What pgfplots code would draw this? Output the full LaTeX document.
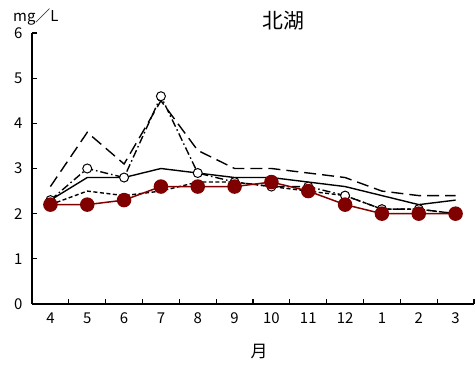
\documentclass[border=0pt]{standalone}
\usepackage{pgfplots}
\pgfplotsset{compat=1.18}
\usepackage{fontspec}
\setmainfont{Noto Sans CJK JP}
\definecolor{maroon}{HTML}{800000}
\begin{document}
\begin{tikzpicture}
\begin{axis}[
  name=ax,
  scale only axis,
  width=442bp, height=271bp,
  xmin=-0.5, xmax=11.5,
  ymin=0, ymax=6,
  axis x line*=bottom,
  axis y line*=left,
  axis line style={line width=1.8pt},
  xtick={0,...,11},
  xticklabels={4,5,6,7,8,9,10,11,12,1,2,3},
  major x tick style={draw=none},
  minor xtick={0.5,1.5,...,11.5},
  minor tick length=5bp,
  ytick={0,1,...,6},
  major tick length=5bp,
  tick style={black, line width=1.3pt},
  tick align=inside,
  /pgf/number format/assume math mode=true,
  tick label style={font=\fontsize{15}{17}\selectfont},
  xticklabel style={yshift=-5bp},
  yticklabel style={xshift=-6bp},
  clip=false,
]
\addplot[black, line width=1.4pt, dash pattern=on 12bp off 6bp] coordinates {
(0,2.6) (1,3.8) (2,3.1) (3,4.5) (4,3.4) (5,3.0) (6,3.0) (7,2.9) (8,2.8) (9,2.5) (10,2.4) (11,2.4)};
\addplot[black, line width=1.4pt] coordinates {
(0,2.3) (1,2.8) (2,2.8) (3,3.0) (4,2.9) (5,2.8) (6,2.8) (7,2.7) (8,2.6) (9,2.4) (10,2.2) (11,2.3)};
\addplot[black, line width=1.4pt, dash pattern=on 4bp off 2.5bp] coordinates {
(0,2.2) (1,2.5) (2,2.4) (3,2.5) (4,2.7) (5,2.7) (6,2.6) (7,2.5) (8,2.4) (9,2.1) (10,2.1) (11,2.0)};
\addplot[black, line width=1.4pt, dash pattern=on 8bp off 3bp on 1.5bp off 3bp,
  mark=*, mark size=4.5bp, mark options={solid, fill=white, draw=black, line width=1pt}] coordinates {
(0,2.3) (1,3.0) (2,2.8) (3,4.6) (4,2.9) (5,2.7) (6,2.6) (7,2.6) (8,2.4) (9,2.1) (10,2.1) (11,2.0)};
\addplot[maroon, line width=1.5pt, mark=*, mark size=6.5bp, mark options={fill=maroon, draw=maroon}] coordinates {
(0,2.2) (1,2.2) (2,2.3) (3,2.6) (4,2.6) (5,2.6) (6,2.7) (7,2.5) (8,2.2) (9,2.0) (10,2.0) (11,2.0)};
\end{axis}
\node[font=\fontsize{15}{17}\selectfont, anchor=west, inner sep=0pt] at ([xshift=-19bp,yshift=16bp]ax.north west) {mg／L};
\node[font=\fontsize{21}{23}\selectfont, inner sep=0pt] at ([xshift=30bp,yshift=12bp]ax.north) {北湖};
\node[font=\fontsize{17}{19}\selectfont, inner sep=0pt] at ([xshift=6bp,yshift=-48bp]ax.south) {月};
\pgfresetboundingbox
\path[use as bounding box] ([xshift=-32bp,yshift=-61bp]ax.south west) rectangle ([xshift=2bp,yshift=33bp]ax.north east);
\end{tikzpicture}
\end{document}
